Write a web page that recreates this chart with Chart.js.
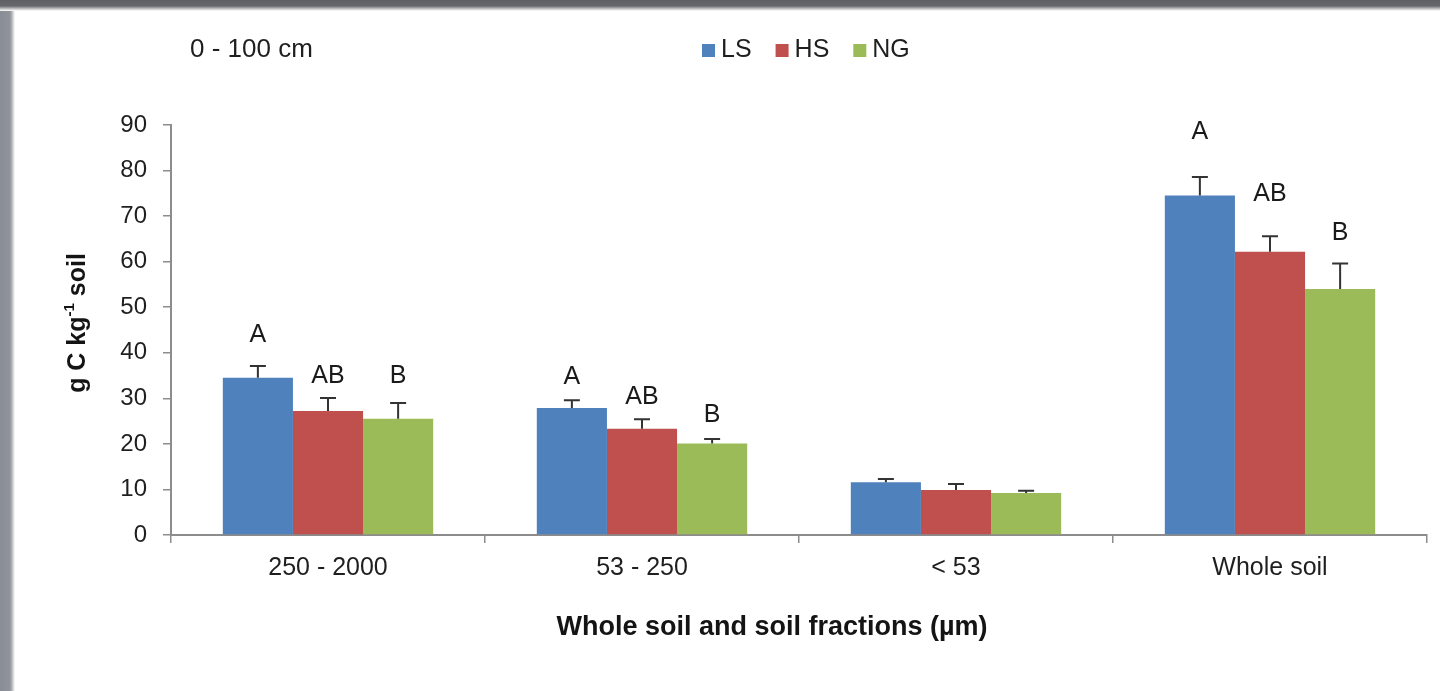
<!DOCTYPE html>
<html>
<head>
<meta charset="utf-8">
<title>Soil carbon by fraction, 0 - 100 cm</title>
<script src="https://cdn.jsdelivr.net/npm/chart.js@4.4.1/dist/chart.umd.min.js"></script>
<style>
  html, body { margin: 0; padding: 0; background: #ffffff; }
  #wrap { position: relative; width: 1440px; height: 691px; overflow: hidden; background: #ffffff; }
  #frameTop { position: absolute; left: 0; top: 0; width: 1440px; height: 11px; z-index: 2;
    background: linear-gradient(to bottom, #5f6064 0px, #67686c 6px, #a9aaad 8px, #e6e6e6 10px, #ffffff 11px); }
  #frameLeft { position: absolute; left: 0; top: 0; width: 15px; height: 691px; z-index: 1;
    background: linear-gradient(to right, #898d95 0px, #90949b 10px, #b5b8bc 12px, #e8e9ea 14px, #ffffff 15px); }
  canvas { position: absolute; left: 0; top: 0; z-index: 3; }
</style>
</head>
<body>
<div id="wrap">
  <div id="frameTop"></div>
  <div id="frameLeft"></div>
  <canvas id="chart" width="1440" height="691"></canvas>
</div>
<script>
// Soil organic carbon (g C per kg soil) by size fraction, 0 - 100 cm depth
const categories = ['250 - 2000', '53 - 250', '< 53', 'Whole soil'];
const seriesNames = ['LS', 'HS', 'NG'];

const lsValues = [34.5, 27.9, 11.6, 74.5];
const hsValues = [27.2, 23.3, 9.9, 62.2];
const ngValues = [25.5, 20.1, 9.2, 54.0];

// standard errors (upper whisker only)
const lsErrors = [2.6, 1.7, 0.7, 4.1];
const hsErrors = [2.9, 2.1, 1.3, 3.4];
const ngErrors = [3.5, 1.0, 0.5, 5.6];

// significance letters per bar
const lsLetters = ['A', 'A', '', 'A'];
const hsLetters = ['AB', 'AB', '', 'AB'];
const ngLetters = ['B', 'B', '', 'B'];

const yTicks = [0, 10, 20, 30, 40, 50, 60, 70, 80, 90];

const FONT = '"Liberation Sans", Arial, Helvetica, sans-serif';
const colors = ['#4f81bd', '#c0504d', '#9bbb59'];

// upper error whiskers with a flat cap
const errorBarPlugin = {
  id: 'errorBars',
  afterDatasetsDraw(chart, args, opts) {
    const ctx = chart.ctx;
    const yScale = chart.scales.y;
    ctx.save();
    ctx.strokeStyle = opts.color;
    ctx.lineWidth = opts.lineWidth;
    chart.data.datasets.forEach((ds, di) => {
      const meta = chart.getDatasetMeta(di);
      meta.data.forEach((bar, i) => {
        const top = yScale.getPixelForValue(ds.data[i] + ds.errors[i]);
        ctx.beginPath();
        ctx.moveTo(bar.x, bar.y);
        ctx.lineTo(bar.x, top);
        ctx.moveTo(bar.x - opts.capWidth / 2, top);
        ctx.lineTo(bar.x + opts.capWidth / 2, top);
        ctx.stroke();
      });
    });
    ctx.restore();
  }
};

// significance letters placed above each whisker
const letterPlugin = {
  id: 'letters',
  afterDatasetsDraw(chart, args, opts) {
    const ctx = chart.ctx;
    const yScale = chart.scales.y;
    ctx.save();
    ctx.font = opts.font;
    ctx.fillStyle = opts.color;
    ctx.textAlign = 'center';
    ctx.textBaseline = 'middle';
    chart.data.datasets.forEach((ds, di) => {
      const meta = chart.getDatasetMeta(di);
      meta.data.forEach((bar, i) => {
        const txt = ds.letters[i];
        if (!txt) return;
        const top = yScale.getPixelForValue(ds.data[i] + ds.errors[i]);
        ctx.fillText(txt, bar.x, top - opts.lift[di][i]);
      });
    });
    ctx.restore();
  }
};

// depth caption, legend row and axis titles
const annotationPlugin = {
  id: 'captions',
  afterDraw(chart) {
    const ctx = chart.ctx;
    const area = chart.chartArea;
    ctx.save();
    ctx.fillStyle = '#1f1f1f';
    ctx.textBaseline = 'middle';

    // depth caption
    ctx.font = '26px ' + FONT;
    ctx.textAlign = 'left';
    ctx.fillText('0 - 100 cm', 190, 50);

    // legend
    ctx.font = '25px ' + FONT;
    let x = 702;
    chart.data.datasets.forEach((ds) => {
      ctx.fillStyle = ds.backgroundColor;
      ctx.fillRect(x, 44, 13, 13);
      ctx.fillStyle = '#1f1f1f';
      ctx.fillText(ds.label, x + 19, 50);
      x += 19 + ctx.measureText(ds.label).width + 24;
    });

    // x axis title
    ctx.fillStyle = '#141414';
    ctx.font = 'bold 27px ' + FONT;
    ctx.textAlign = 'center';
    ctx.fillText('Whole soil and soil fractions (\u00b5m)', area.left + 601, 628);

    // y axis title with superscript
    const big = 'bold 25px ' + FONT;
    const small = 'bold 15px ' + FONT;
    const parts = [
      { t: 'g C kg', f: big, dy: 0 },
      { t: '-1', f: small, dy: -8 },
      { t: ' soil', f: big, dy: 0 }
    ];
    let total = 0;
    parts.forEach(p => { ctx.font = p.f; p.w = ctx.measureText(p.t).width; total += p.w; });
    ctx.translate(78, 323);
    ctx.rotate(-Math.PI / 2);
    ctx.textAlign = 'left';
    let px = -total / 2;
    parts.forEach(p => {
      ctx.font = p.f;
      ctx.fillText(p.t, px, p.dy);
      px += p.w;
    });
    ctx.restore();
  }
};

const makeSet = (label, values, errors, letters, color) => ({
  label: label,
  data: values,
  errors: errors,
  letters: letters,
  backgroundColor: color,
  borderWidth: 0,
  categoryPercentage: 0.67,
  barPercentage: 1.0
});

new Chart(document.getElementById('chart'), {
  type: 'bar',
  data: {
    labels: categories,
    datasets: [
      makeSet(seriesNames[0], lsValues, lsErrors, lsLetters, colors[0]),
      makeSet(seriesNames[1], hsValues, hsErrors, hsLetters, colors[1]),
      makeSet(seriesNames[2], ngValues, ngErrors, ngLetters, colors[2])
    ]
  },
  options: {
    responsive: false,
    devicePixelRatio: 1,
    animation: false,
    layout: { padding: { top: 125, left: 0, right: 13, bottom: 0 } },
    plugins: {
      legend: { display: false },
      title: { display: false },
      tooltip: { enabled: false },
      errorBars: { color: '#333333', lineWidth: 2, capWidth: 16 },
      letters: {
        font: '25px ' + FONT,
        color: '#1a1a1a',
        lift: [[31, 23, 0, 45], [22, 22, 0, 42], [27, 24, 0, 30]]
      }
    },
    scales: {
      x: {
        afterFit(scale) { scale.height = 156; },
        grid: { display: true, offset: true, drawOnChartArea: false, drawTicks: true, tickLength: 8, color: '#8c8c8c', lineWidth: 1.5 },
        border: { display: true, color: '#8c8c8c', width: 2 },
        ticks: { font: { family: FONT, size: 25 }, color: '#1f1f1f', padding: 10, maxRotation: 0 }
      },
      y: {
        min: 0,
        max: 90,
        afterFit(scale) { scale.width = 171; },
        afterBuildTicks(scale) { scale.ticks = yTicks.map(v => ({ value: v })); },
        grid: { display: true, drawOnChartArea: false, drawTicks: true, tickLength: 8, color: '#8c8c8c', lineWidth: 1.5 },
        border: { display: true, color: '#8c8c8c', width: 2 },
        ticks: { font: { family: FONT, size: 24 }, color: '#1f1f1f', padding: 16 }
      }
    }
  },
  plugins: [errorBarPlugin, letterPlugin, annotationPlugin]
});
</script>
</body>
</html>
